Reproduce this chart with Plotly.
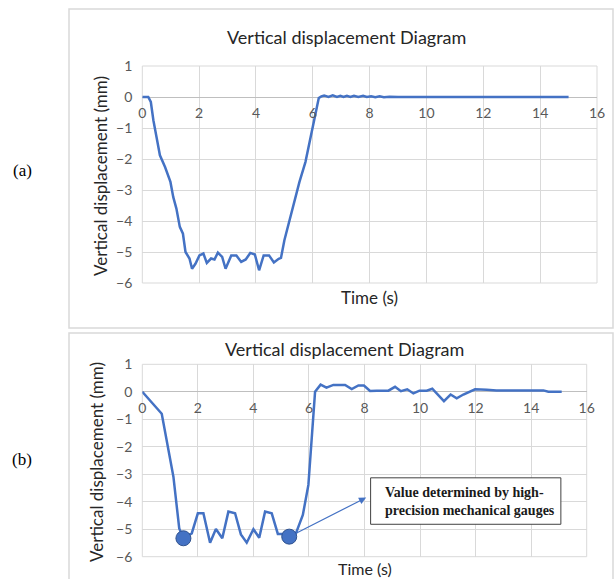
import plotly.graph_objects as go

# ---------------- data ----------------
# Panel (a): measured vertical displacement
a_time = [0, 0.21, 0.3, 0.39, 0.5, 0.62, 0.8, 0.99, 1.09, 1.2, 1.32, 1.43, 1.52, 1.66, 1.75, 1.87,
          2.01, 2.15, 2.27, 2.42, 2.54, 2.66, 2.81, 2.93, 3.13, 3.31, 3.48, 3.64, 3.8, 3.96, 4.11,
          4.27, 4.46, 4.63, 4.8, 4.88, 5.0, 5.15, 5.35, 5.53, 5.74, 5.94, 6.09, 6.21, 6.3, 6.4,
          6.55, 6.7, 6.85, 6.97, 7.08, 7.2, 7.32, 7.45, 7.6, 7.77, 7.9, 8.05, 8.2, 8.35, 8.5, 8.7,
          9.0, 15.0]
a_disp = [0, 0, -0.16, -0.75, -1.29, -1.88, -2.26, -2.74, -3.23, -3.6, -4.19, -4.41, -5.0, -5.21,
          -5.54, -5.38, -5.11, -5.05, -5.35, -5.21, -5.24, -5.02, -5.16, -5.54, -5.11, -5.11, -5.32,
          -5.24, -5.03, -5.08, -5.59, -5.11, -5.11, -5.34, -5.22, -5.19, -4.62, -4.08, -3.33, -2.74,
          -2.1, -1.18, -0.54, -0.03, 0.02, 0.05, 0.0, 0.05, 0.0, 0.04, 0.0, 0.04, 0.0, 0.04, 0.0,
          0.04, 0.0, 0.02, -0.01, 0.02, -0.01, 0.01, 0, 0]

# Panel (b): computed vertical displacement
b_time = [0, 0.7, 1.12, 1.33, 1.48, 1.78, 2.0, 2.2, 2.44, 2.65, 2.88, 3.1, 3.34, 3.55, 3.76, 4.0,
          4.21, 4.42, 4.66, 4.88, 5.08, 5.29, 5.53, 5.78, 5.98, 6.22, 6.42, 6.63, 6.88, 7.3, 7.54,
          7.78, 7.98, 8.2, 8.44, 8.86, 9.1, 9.31, 9.54, 9.76, 9.98, 10.24, 10.44, 10.86, 11.1,
          11.32, 11.56, 11.98, 12.4, 12.75, 14.44, 14.62, 15.1]
b_disp = [0, -0.8, -3.09, -4.97, -5.33, -5.15, -4.42, -4.42, -5.49, -4.99, -5.33, -4.36, -4.42,
          -5.19, -5.49, -5.0, -5.31, -4.36, -4.42, -5.17, -5.17, -5.27, -5.15, -4.48, -3.39, 0.0,
          0.26, 0.15, 0.25, 0.25, 0.1, 0.23, 0.23, 0.03, 0.04, 0.04, 0.18, 0.02, 0.09, -0.06, 0.04,
          0.04, 0.11, -0.34, -0.1, -0.24, -0.1, 0.09, 0.07, 0.05, 0.05, 0.0, 0.0]

# Gauge-measured points
gauge_time = [1.48, 5.29]
gauge_disp = [-5.33, -5.27]

x_ticks = [0, 2, 4, 6, 8, 10, 12, 14, 16]
y_ticks = [1, 0, -1, -2, -3, -4, -5, -6]

title_text = "Vertical displacement Diagram"
ylabel = "Vertical displacement (mm)"
xlabel = "Time (s)"
note_text = "Value determined by high-<br>precision mechanical gauges"

# ---------------- styling ----------------
W, H = 615, 579
BLUE = "#4472C4"
GRID = "#d9d9d9"
TICKC = "#595959"
FONT = "Lato, Open Sans, sans-serif"


def px(v):
    return v / W


def py(v):
    return 1 - v / H


fig = go.Figure()

fig.add_trace(go.Scatter(x=a_time, y=a_disp, mode="lines", line=dict(color=BLUE, width=2.5),
                         xaxis="x", yaxis="y", showlegend=False, hoverinfo="skip"))
fig.add_trace(go.Scatter(x=b_time, y=b_disp, mode="lines", line=dict(color=BLUE, width=2.5),
                         xaxis="x2", yaxis="y2", showlegend=False, hoverinfo="skip"))
fig.add_trace(go.Scatter(x=gauge_time, y=gauge_disp, mode="markers",
                         marker=dict(color=BLUE, size=15, line=dict(color="#2F528F", width=1)),
                         xaxis="x2", yaxis="y2", showlegend=False, hoverinfo="skip"))

# plot-area geometry (pixels)
a_x0, a_x1, a_y0, a_y1 = 142.3, 597.0, 66.0, 283.0
b_x0, b_x1, b_y0, b_y1 = 142.3, 586.7, 364.3, 556.7
a_zero = a_y0 + (a_y1 - a_y0) * (1 / 7)
b_zero = b_y0 + (b_y1 - b_y0) * (1 / 7)

xcommon = dict(range=[0, 16], tickvals=x_ticks, showgrid=True, gridcolor=GRID, gridwidth=1,
               zeroline=False, showline=False, ticks="", anchor="free", automargin=False,
               tickfont=dict(family=FONT, size=14, color=TICKC), ticklabelstandoff=6)
ycommon = dict(range=[-6, 1], tickvals=y_ticks, showgrid=True, gridcolor=GRID, gridwidth=1,
               zeroline=True, zerolinecolor="#bfbfbf", zerolinewidth=1, showline=False,
               automargin=False, ticks="", tickfont=dict(family=FONT, size=14, color=TICKC),
               ticklabelstandoff=9)

fig.update_layout(
    width=W, height=H, margin=dict(l=0, r=0, t=0, b=0, pad=0), autosize=False,
    paper_bgcolor="white", plot_bgcolor="white",
    xaxis=dict(domain=[px(a_x0), px(a_x1)], position=py(a_zero), **xcommon),
    yaxis=dict(domain=[py(a_y1), py(a_y0)], anchor="x", **ycommon),
    xaxis2=dict(domain=[px(b_x0), px(b_x1)], position=py(b_zero), **xcommon),
    yaxis2=dict(domain=[py(b_y1), py(b_y0)], anchor="x2", **ycommon),
)

shapes = [
    # outer frames of the two charts
    dict(type="rect", xref="paper", yref="paper", x0=px(69), x1=px(613), y0=py(328), y1=py(9),
         line=dict(color=GRID, width=1.5)),
    dict(type="rect", xref="paper", yref="paper", x0=px(69), x1=px(613), y0=py(590), y1=py(333),
         line=dict(color=GRID, width=1.5)),
    # plot-area borders
    dict(type="rect", xref="x domain", yref="y domain", x0=0, x1=1, y0=0, y1=1,
         line=dict(color=GRID, width=1), layer="below"),
    dict(type="rect", xref="x2 domain", yref="y2 domain", x0=0, x1=1, y0=0, y1=1,
         line=dict(color=GRID, width=1), layer="below"),
    # note box
    dict(type="rect", xref="x2", yref="y2", x0=8.22, x1=15.07, y0=-4.82, y1=-3.13,
         line=dict(color="#404040", width=1), fillcolor="white"),
]
fig.update_layout(shapes=shapes)

ann = []
# titles
ann.append(dict(text=title_text, x=px(346), y=py(37), xref="paper", yref="paper", showarrow=False,
                font=dict(family=FONT, size=18, color="#262626"), xanchor="center", yanchor="middle"))
ann.append(dict(text=title_text, x=px(344), y=py(349), xref="paper", yref="paper", showarrow=False,
                font=dict(family=FONT, size=18, color="#262626"), xanchor="center", yanchor="middle"))
# y-axis titles
ann.append(dict(text=ylabel, x=px(100), y=py(176), xref="paper", yref="paper", showarrow=False,
                textangle=-90, font=dict(family=FONT, size=17, color="#262626"),
                xanchor="center", yanchor="middle"))
ann.append(dict(text=ylabel, x=px(97), y=py(462), xref="paper", yref="paper", showarrow=False,
                textangle=-90, font=dict(family=FONT, size=17, color="#262626"),
                xanchor="center", yanchor="middle"))
# x-axis titles
ann.append(dict(text=xlabel, x=px(369), y=py(297), xref="paper", yref="paper", showarrow=False,
                font=dict(family=FONT, size=17, color="#262626"), xanchor="center", yanchor="middle"))
ann.append(dict(text=xlabel, x=px(365), y=py(568), xref="paper", yref="paper", showarrow=False,
                font=dict(family=FONT, size=16, color="#262626"), xanchor="center", yanchor="middle"))
# panel labels
ann.append(dict(text="(a)", x=px(22), y=py(170), xref="paper", yref="paper", showarrow=False,
                font=dict(family="Liberation Serif, serif", size=17, color="black"),
                xanchor="center", yanchor="middle"))
ann.append(dict(text="(b)", x=px(22), y=py(459), xref="paper", yref="paper", showarrow=False,
                font=dict(family="Liberation Serif, serif", size=17, color="black"),
                xanchor="center", yanchor="middle"))
# arrow from gauge point to note
ann.append(dict(x=8.06, y=-3.85, ax=gauge_time[1], ay=gauge_disp[1], xref="x2", yref="y2",
                axref="x2", ayref="y2", text="", showarrow=True, arrowhead=2, arrowsize=1.2,
                arrowwidth=1.2, arrowcolor=BLUE, standoff=0, startstandoff=6))
# note text
ann.append(dict(text="<b>" + note_text + "</b>", x=8.22 + 0.45, y=-3.975, xref="x2", yref="y2",
                showarrow=False, align="left", xanchor="left", yanchor="middle",
                font=dict(family="Liberation Serif, serif", size=14, color="#1a1a1a")))
fig.update_layout(annotations=ann)

fig.write_html("out.html", config={"displayModeBar": False},
               post_script="document.body.style.margin='0px';document.body.style.overflow='hidden';")
